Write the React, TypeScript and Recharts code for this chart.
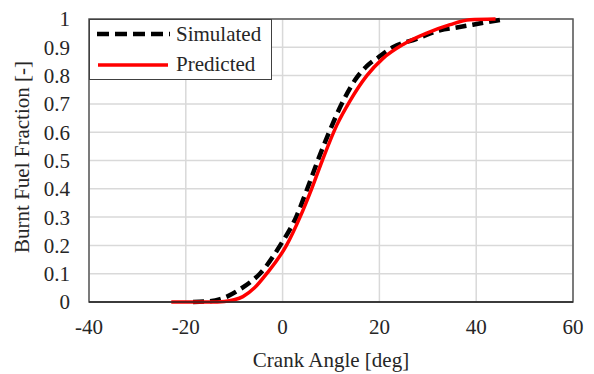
import {
  LineChart,
  Line,
  XAxis,
  YAxis,
  CartesianGrid,
  ReferenceArea,
} from 'recharts';

const xTicks = [-40, -20, 0, 20, 40, 60];
const yTicks = [0, 0.1, 0.2, 0.3, 0.4, 0.5, 0.6, 0.7, 0.8, 0.9, 1];

// crank angle [deg] / burnt fraction pairs
const simAngle = [-18.5, -15, -12.9, -11.5, -8.8, -6.1, -4.7, -0.5, 2.8, 5.1, 7.5, 10.1, 12.5, 15, 17.5, 19.8, 22.8, 27.7, 32.5, 36, 39.3, 44.3, 46];
const simFrac = [0, 0.003, 0.01, 0.019, 0.045, 0.078, 0.1, 0.2, 0.3, 0.4, 0.51, 0.62, 0.71, 0.785, 0.835, 0.865, 0.9, 0.93, 0.96, 0.97, 0.98, 0.995, 1];

const predAngle = [-23, -15, -12, -10, -8.2, -5.8, -3.3, 0.8, 3.6, 6, 8.2, 11.2, 13.9, 17.4, 20.7, 24.9, 29.8, 34.6, 38.7, 44];
const predFrac = [0, 0, 0.002, 0.008, 0.019, 0.05, 0.1, 0.2, 0.3, 0.4, 0.5, 0.625, 0.71, 0.8, 0.86, 0.91, 0.95, 0.98, 0.997, 1];

const simData = simAngle.map((x, i) => ({ x, y: simFrac[i] }));
const predData = predAngle.map((x, i) => ({ x, y: predFrac[i] }));

const FONT = '"Liberation Serif", "DejaVu Serif", serif';
const INK = '#262626';
const TICK = { fill: INK, fontSize: 21, fontFamily: FONT };

const LegendBox = () => (
  <div
    style={{
      position: 'absolute',
      left: 89,
      top: 19,
      width: 183,
      height: 61,
      boxSizing: 'border-box',
      border: '1.5px solid #404040',
      background: '#fff',
    }}
  >
    <svg width={180} height={58} style={{ display: 'block' }}>
      <line x1={7} x2={80} y1={14} y2={14} stroke="#000" strokeWidth={4.5} strokeDasharray="12 6" />
      <text x={86} y={21} fontFamily={FONT} fontSize={21} fill={INK}>Simulated</text>
      <line x1={8} x2={78} y1={45} y2={45} stroke="#ff0000" strokeWidth={3.5} />
      <text x={86} y={51} fontFamily={FONT} fontSize={21} fill={INK}>Predicted</text>
    </svg>
  </div>
);

const YTitle = ({ viewBox }: any) => {
  const cx = 22;
  const cy = viewBox.y + viewBox.height / 2 - 3.5;
  return (
    <text
      x={cx}
      y={cy}
      transform={`rotate(-90 ${cx} ${cy})`}
      textAnchor="middle"
      dominantBaseline="central"
      fontFamily={FONT}
      fontSize={21}
      fill={INK}
    >
      Burnt Fuel Fraction [-]
    </text>
  );
};

export default function App() {
  return (
    <div style={{ position: 'absolute', left: 0, top: 0, width: 594, height: 374, background: '#fff' }}>
      <LineChart width={594} height={374} margin={{ top: 19, right: 21, bottom: 42, left: 9 }}>
        <CartesianGrid stroke="#d9d9d9" strokeWidth={1.5} />
        <XAxis
          type="number"
          dataKey="x"
          domain={[-40, 60]}
          ticks={xTicks}
          interval={0}
          tick={TICK}
          tickLine={false}
          axisLine={{ stroke: INK, strokeWidth: 1.5 }}
          tickMargin={11}
          label={{
            value: 'Crank Angle [deg]',
            position: 'bottom',
            offset: 20,
            style: { fill: INK, fontSize: 21, fontFamily: FONT },
          }}
        />
        <YAxis
          type="number"
          dataKey="y"
          domain={[0, 1]}
          ticks={yTicks}
          interval={0}
          width={80}
          tick={TICK}
          tickLine={false}
          axisLine={false}
          tickMargin={13}
          label={<YTitle />}
        />
        <ReferenceArea x1={-40} x2={60} y1={0} y2={1} fill="none" stroke="#595959" strokeWidth={1.5} ifOverflow="visible" />
        <Line
          data={simData}
          dataKey="y"
          name="Simulated"
          type="monotone"
          stroke="#000"
          strokeWidth={4.5}
          strokeDasharray="11 6"
          dot={false}
          isAnimationActive={false}
        />
        <Line
          data={predData}
          dataKey="y"
          name="Predicted"
          type="monotone"
          stroke="#ff0000"
          strokeWidth={3.5}
          dot={false}
          isAnimationActive={false}
        />
      </LineChart>
      <LegendBox />
    </div>
  );
}
